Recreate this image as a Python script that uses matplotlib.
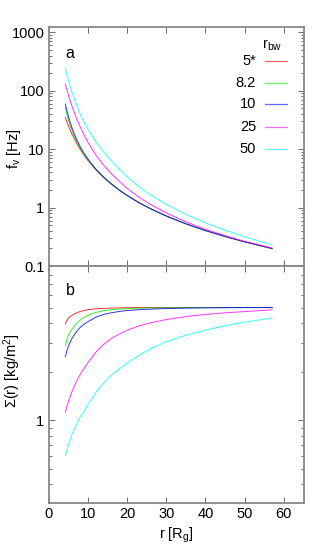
import matplotlib
matplotlib.use("Agg")
import matplotlib.pyplot as plt
from matplotlib.lines import Line2D
from matplotlib.ticker import LogLocator, NullFormatter, FixedLocator

plt.rcParams['font.family'] = ['Liberation Sans', 'DejaVu Sans']
plt.rcParams['mathtext.fontset'] = 'custom'
plt.rcParams['mathtext.rm'] = 'Liberation Sans'
plt.rcParams['mathtext.it'] = 'Liberation Sans'

# ---- data ----
r = [4.3, 4.6, 5, 5.5, 6, 7, 8, 9, 10, 12, 14, 16, 18, 20, 23, 26, 30, 35, 40, 45, 50, 57]

labels = ["5*", "8.2", "10", "25", "50"]
colors = ["#ff0000", "#00ee00", "#0000ff", "#ff00ff", "#00ffff"]

fv_5 = [35, 30.6, 25.9, 21.4, 18.0, 13.2, 10.1, 7.99, 6.47, 4.49, 3.30, 2.53, 2.00, 1.62, 1.22, 0.957, 0.719, 0.528, 0.404, 0.320, 0.259, 0.199]
fv_82 = [52.2, 42.2, 33.2, 25.7, 20.5, 14.3, 10.6, 8.23, 6.60, 4.53, 3.30, 2.53, 2.00, 1.62, 1.22, 0.957, 0.719, 0.528, 0.404, 0.320, 0.259, 0.199]
fv_10 = [59.2, 48.3, 38.1, 29.1, 23.0, 15.6, 11.3, 8.63, 6.86, 4.62, 3.37, 2.56, 2.00, 1.62, 1.22, 0.957, 0.719, 0.528, 0.404, 0.320, 0.259, 0.199]
fv_25 = [129.5, 108.6, 87.5, 68.1, 54.0, 35.6, 24.7, 17.9, 13.3, 8.08, 5.35, 3.80, 2.84, 2.15, 1.51, 1.13, 0.812, 0.570, 0.424, 0.331, 0.265, 0.203]
fv_50 = [241.5, 198.9, 158, 119.8, 93.6, 60.7, 41.4, 29.6, 22.3, 13.7, 9.08, 6.33, 4.6, 3.40, 2.29, 1.66, 1.14, 0.766, 0.549, 0.410, 0.316, 0.231]

sig_5 = [3.95, 4.12, 4.28, 4.40, 4.48, 4.62, 4.72, 4.79, 4.85, 4.91, 4.94, 4.96, 4.98, 4.99, 5.0, 5.0, 5.0, 5.0, 5.0, 5.0, 5.0, 5.0]
sig_82 = [2.90, 3.10, 3.32, 3.52, 3.68, 3.95, 4.16, 4.33, 4.47, 4.66, 4.77, 4.84, 4.89, 4.92, 4.95, 4.97, 4.98, 4.99, 5.0, 5.0, 5.0, 5.0]
sig_10 = [2.48, 2.65, 2.85, 3.05, 3.22, 3.51, 3.75, 3.93, 4.08, 4.35, 4.53, 4.64, 4.73, 4.79, 4.85, 4.89, 4.93, 4.96, 4.98, 4.99, 5.0, 5.0]
sig_25 = [1.125, 1.2, 1.29, 1.40, 1.51, 1.72, 1.91, 2.09, 2.27, 2.63, 2.95, 3.21, 3.42, 3.61, 3.84, 4.02, 4.21, 4.40, 4.53, 4.64, 4.72, 4.84]
sig_50 = [0.608, 0.64, 0.69, 0.755, 0.82, 0.93, 1.045, 1.13, 1.25, 1.48, 1.70, 1.90, 2.08, 2.26, 2.52, 2.78, 3.07, 3.37, 3.62, 3.86, 4.06, 4.31]

fv_series = [fv_5, fv_82, fv_10, fv_25, fv_50]
sig_series = [sig_5, sig_82, sig_10, sig_25, sig_50]

xticks = [0, 10, 20, 30, 40, 50, 60]
fv_ticks = [0.1, 1, 10, 100, 1000]
fv_ticklabels = ["0.1", "1", "10", "100", "1000"]

# ---- figure ----
W, H = 320, 560
fig = plt.figure(figsize=(W / 100, H / 100), dpi=100)
x0, x1 = 48.5 / W, 303.5 / W
ax1 = fig.add_axes([x0, 1 - 266 / H, x1 - x0, (266 - 27.3) / H])
ax2 = fig.add_axes([x0, 1 - 503 / H, x1 - x0, (503 - 266) / H])

frame_col = "#888888"
fs = 10.5
for ax in (ax1, ax2):
    ax.set_yscale("log")
    ax.set_xlim(0, 65)
    for s in ax.spines.values():
        s.set_color(frame_col)
        s.set_linewidth(1.3)
    ax.tick_params(which="both", direction="in", top=True, right=True,
                   color="#555555", labelsize=fs, width=0.6, pad=3)
    ax.tick_params(which="major", length=4)
    ax.tick_params(which="minor", length=2)
    ax.xaxis.set_major_locator(FixedLocator(xticks))
    ax.yaxis.set_minor_locator(LogLocator(base=10, subs=range(2, 10), numticks=20))
    ax.yaxis.set_minor_formatter(NullFormatter())

for ys, c in zip(fv_series, colors):
    ax1.plot(r, ys, color=c, lw=0.7, alpha=0.8)
for ys, c in zip(sig_series, colors):
    ax2.plot(r, ys, color=c, lw=0.7, alpha=0.8)

ax1.set_ylim(0.1, 1220)
ax1.set_yticks(fv_ticks)
ax1.set_yticklabels(fv_ticklabels)
ax1.tick_params(axis="x", labelbottom=False)

ax2.set_ylim(0.307, 9.05)
ax2.set_yticks([1])
ax2.set_yticklabels(["1"])
ax2.set_xticklabels([str(v) for v in xticks])

ax1.set_ylabel("f$_\\mathregular{v}$ [Hz]", fontsize=fs)
ax1.yaxis.set_label_coords(-0.1, 0.49)
ax2.set_ylabel("Σ(r) [kg/m$^\\mathregular{2}$]", fontsize=fs)
ax2.yaxis.set_label_coords(-0.1, 0.56)
ax2.set_xlabel("r [R$_\\mathregular{g}$]", fontsize=fs, labelpad=3)

ax1.text(0.084, 0.892, "a", transform=ax1.transAxes, fontsize=fs + 1, ha="center", va="center")
ax2.text(0.084, 0.895, "b", transform=ax2.transAxes, fontsize=fs + 1, ha="center", va="center")

# legend (manual, right-aligned labels)
ax1.text(0.876, 0.926, "r$_\\mathregular{bw}$", transform=ax1.transAxes, fontsize=fs, ha="center", va="center")
rows = [0.859, 0.767, 0.677, 0.584, 0.492]
for lab, c, yy in zip(labels, colors, rows):
    ax1.text(0.814, yy, lab, transform=ax1.transAxes, fontsize=fs, ha="right", va="center")
    ax1.add_line(Line2D([0.849, 0.935], [yy, yy], transform=ax1.transAxes, color=c, lw=0.9, alpha=0.6))

fig.savefig("out.png", dpi=100)
